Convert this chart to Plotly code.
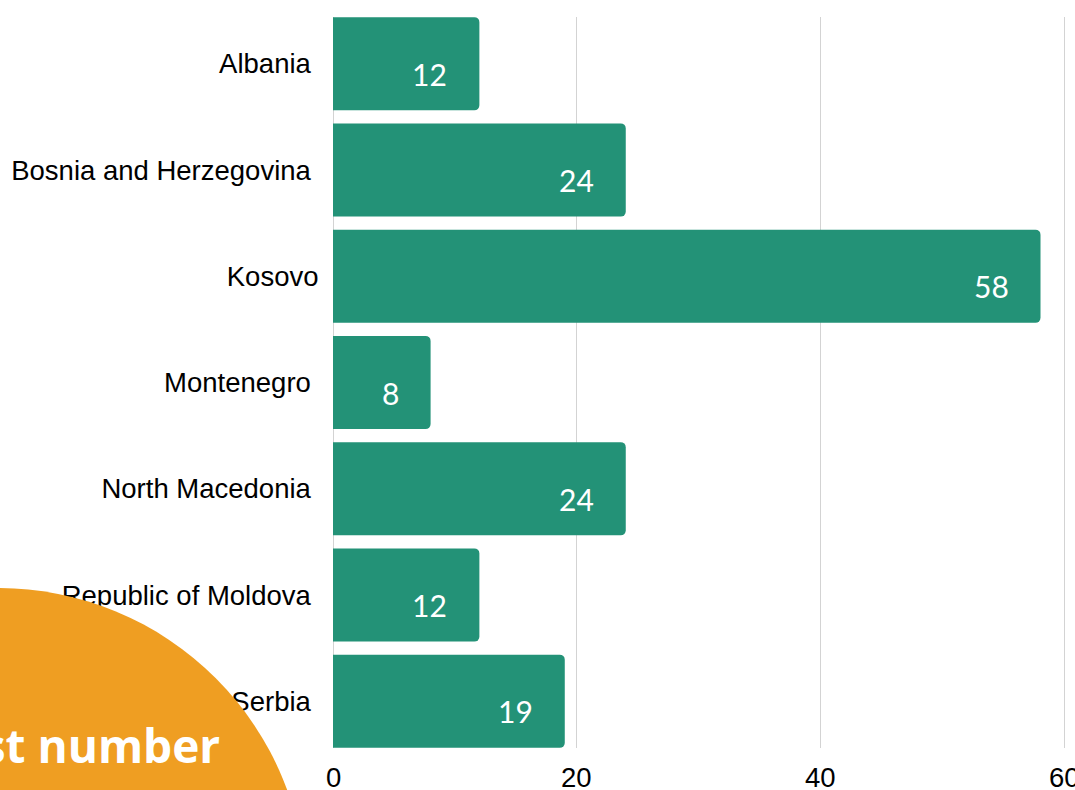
import plotly.graph_objects as go

countries = ["Albania", "Bosnia and Herzegovina", "Kosovo", "Montenegro",
             "North Macedonia", "Republic of Moldova", "Serbia"]
tick_text = ["Albania\u00a0", "Bosnia and Herzegovina\u00a0", "Kosovo", "Montenegro\u00a0",
             "North Macedonia\u00a0", "Republic of Moldova\u00a0", "Serbia\u00a0"]
values = [12, 24, 58, 8, 24, 12, 19]
x_ticks = [0, 20, 40, 60]
callout_text = "Highest number"

W, H = 1075, 790
X_MAX = 60.5
ML, MT, MB = 333, 17, 42
PX_PER_UNIT = (1065 - 333) / 60
MR = W - ML - PX_PER_UNIT * X_MAX
PW, PH = W - ML - MR, H - MT - MB

def px_x(p):
    return (p - ML) / PW

def px_y(p):
    return (H - MB - p) / PH

GREEN = "#239277"
ORANGE = "#EF9E22"
AXIS_FONT = dict(family="Liberation Sans", size=27.5, color="black")

fig = go.Figure(go.Bar(
    x=values, y=countries, orientation="h",
    marker=dict(color=GREEN, line=dict(width=0), cornerradius=5),
    hoverinfo="skip",
))

annotations = []
for c, v in zip(countries, values):
    annotations.append(dict(
        x=v, y=c, xref="x", yref="y", text=str(v), showarrow=False,
        xanchor="right", yanchor="middle", xshift=-30, yshift=-10,
        font=dict(family="Lato", size=30, color="white"),
    ))

# x tick labels (drawn as annotations so the last one may be clipped by the page edge)
for t in x_ticks:
    annotations.append(dict(
        x=t, y=px_y(778), xref="x", yref="paper", text=str(t), showarrow=False,
        xanchor="center", yanchor="middle", font=AXIS_FONT,
    ))

annotations.append(dict(
    x=px_x(222), y=px_y(745), xref="paper", yref="paper",
    text="<b>" + callout_text + "</b>", showarrow=False,
    xanchor="right", yanchor="middle",
    font=dict(family="Open Sans", size=46, color="white"),
))

n = len(countries)
fig.update_layout(
    template="none",
    width=W, height=H,
    margin=dict(l=ML, r=MR, t=MT, b=MB, pad=0, autoexpand=False),
    paper_bgcolor="white", plot_bgcolor="white",
    bargap=0.1225,
    showlegend=False,
    xaxis=dict(
        range=[0, X_MAX], tickvals=x_ticks, showgrid=True, gridcolor="#d3d3d3",
        gridwidth=1, zeroline=True, zerolinecolor="#d3d3d3", zerolinewidth=1,
        showline=False, ticks="", showticklabels=False, automargin=False,
    ),
    yaxis=dict(
        categoryorder="array", categoryarray=countries[::-1],
        tickvals=countries, ticktext=tick_text,
        range=[-0.44, n - 1 + 0.44],
        showgrid=False, zeroline=False, showline=False, automargin=False,
        ticks="outside", ticklen=8, tickcolor="rgba(0,0,0,0)",
        tickfont=AXIS_FONT,
    ),
    shapes=[dict(
        type="circle", xref="paper", yref="paper", layer="above",
        x0=px_x(-2 - 308), x1=px_x(-2 + 308),
        y0=px_y(896 + 308), y1=px_y(896 - 308),
        fillcolor=ORANGE, line=dict(width=0),
    )],
    annotations=annotations,
)

fig.write_html("out.html")
